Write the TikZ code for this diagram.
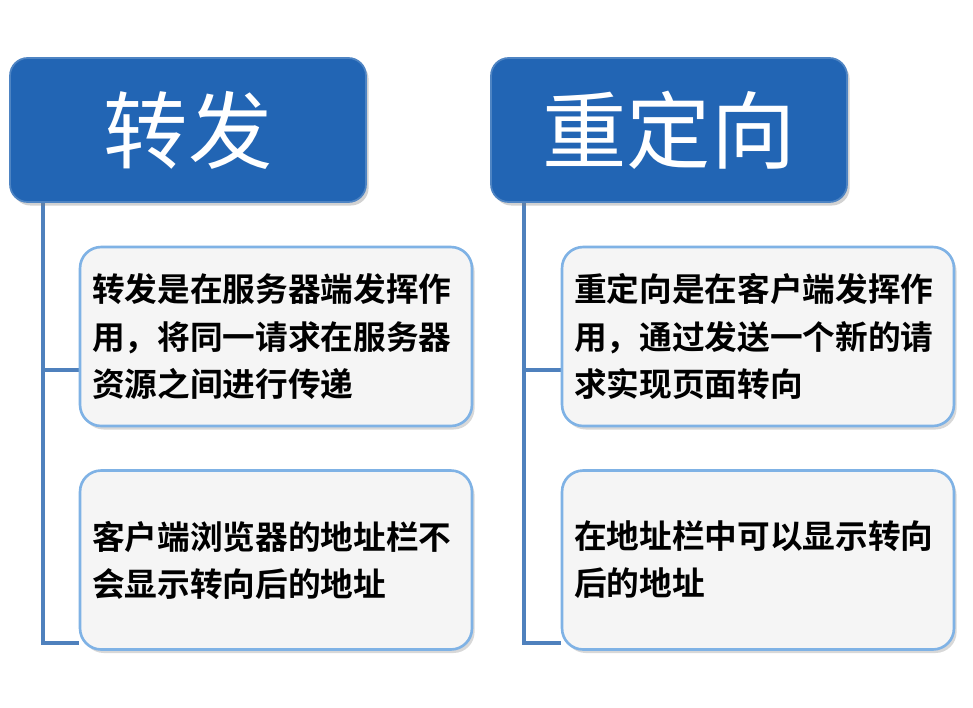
\documentclass[tikz,border=0pt]{standalone}
\usepackage{fontspec}
\newfontfamily\cjk{Noto Sans CJK SC}
\newfontfamily\cjkb{Noto Sans CJK SC Bold}
\usetikzlibrary{shadows,backgrounds}
\definecolor{hdrblue}{HTML}{2265B4}
\definecolor{linkblue}{HTML}{4F81BD}
\definecolor{boxedge}{HTML}{7FB2E5}
\definecolor{boxfill}{HTML}{F5F5F5}
\tikzset{
  hdr/.style={draw=hdrblue!80!white, line width=1pt, fill=hdrblue, rounded corners=10pt,
    minimum width=7.12cm, minimum height=2.88cm, inner sep=0pt, text=white,
    font=\cjk\fontsize{48}{56}\selectfont,
    drop shadow={opacity=0.35, shadow xshift=1.5pt, shadow yshift=-2pt}},
  item/.style={draw=boxedge, line width=1.5pt, fill=boxfill, rounded corners=12pt,
    minimum width=7.84cm, minimum height=3.58cm, text width=7.36cm, inner sep=0.24cm,
    align=left, font=\cjkb\fontsize{18.6}{26.8}\selectfont,
    drop shadow={opacity=0.3, shadow xshift=1.5pt, shadow yshift=-2pt}},
  link/.style={draw=linkblue, line width=2.2pt}
}
\begin{document}
\begin{tikzpicture}[x=0.02cm, y=-0.02cm]
\useasboundingbox (0,0) rectangle (973,707);
\coordinate (lt) at (43,202);
\coordinate (l1) at (43,370);
\coordinate (l2) at (43,643);
\coordinate (rt) at (524,202);
\coordinate (r1) at (524,370);
\coordinate (r2) at (524,643);
\node[hdr] (hL) at (188,130) {转发};
\node[hdr] (hR) at (669,130) {重定向};
\node[item] (bL1) at (276,336.5) {转发是在服务器端发挥作\\用，将同一请求在服务器\\资源之间进行传递};
\node[item] (bL2) at (276,560) {客户端浏览器的地址栏不\\会显示转向后的地址};
\node[item] (bR1) at (758,336.5) {重定向是在客户端发挥作\\用，通过发送一个新的请\\求实现页面转向};
\node[item] (bR2) at (758,560) {在地址栏中可以显示转向\\后的地址};
\begin{scope}[on background layer]
\fill[white] (0,0) rectangle (973,707);
\draw[link] (lt) -- (l2) -- (l2 -| bL2.west);
\draw[link] (l1) -- (l1 -| bL1.west);
\draw[link] (rt) -- (r2) -- (r2 -| bR2.west);
\draw[link] (r1) -- (r1 -| bR1.west);
\end{scope}
\end{tikzpicture}
\end{document}
